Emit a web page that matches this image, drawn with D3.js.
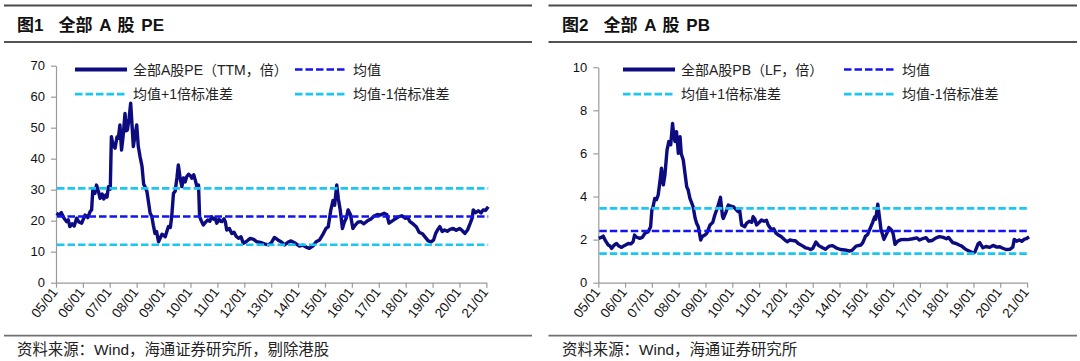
<!DOCTYPE html>
<html>
<head>
<meta charset="utf-8">
<script src="https://d3js.org/d3.v7.min.js"></script>
<style>
  body { margin: 0; background: #fff; }
  svg { display: block; font-family: "Liberation Sans", Arial, "Noto Sans CJK SC", sans-serif; }
</style>
</head>
<body>
<div id="chart"></div>
<script>
// ===========Data
var peDates = ["2005-01-07","2005-02-14","2005-03-14","2005-04-20","2005-05-26","2005-06-17","2005-07-08","2005-08-08","2005-09-05","2005-10-08","2005-11-06","2005-12-16",
  "2006-01-30","2006-03-08","2006-04-09","2006-04-30","2006-05-15","2006-06-13","2006-07-05","2006-07-31","2006-08-22","2006-09-20","2006-10-12","2006-11-07","2006-11-25","2006-12-13",
  "2007-01-08","2007-01-23","2007-02-14","2007-03-14","2007-04-09","2007-04-27","2007-05-19","2007-06-10","2007-07-02","2007-07-27","2007-08-14","2007-08-29","2007-09-20","2007-10-12","2007-10-30","2007-11-17","2007-12-09",
  "2008-01-02","2008-01-23","2008-02-17","2008-03-14","2008-04-05","2008-04-23","2008-05-19","2008-06-10","2008-07-02","2008-07-24","2008-08-15","2008-09-06","2008-09-28","2008-10-24","2008-11-18","2008-12-10","2008-12-28",
  "2009-01-23","2009-02-14","2009-03-08","2009-04-02","2009-04-20","2009-05-15","2009-06-07","2009-07-02","2009-07-20","2009-08-15","2009-09-06","2009-09-28","2009-10-20","2009-11-11","2009-12-06",
  "2010-01-01","2010-01-19","2010-02-14","2010-03-08","2010-03-29","2010-04-20","2010-05-05","2010-05-27","2010-06-25","2010-07-24","2010-08-22","2010-09-20","2010-10-15","2010-11-10","2010-12-02","2010-12-24",
  "2011-01-23","2011-02-14","2011-03-04","2011-04-02","2011-04-20","2011-05-08","2011-06-13","2011-07-16","2011-08-14","2011-09-13","2011-10-15","2011-11-18","2011-12-20",
  "2012-01-30","2012-03-22","2012-05-08","2012-06-21","2012-08-08","2012-10-01","2012-11-25",
  "2013-01-04","2013-02-14","2013-04-02","2013-05-15","2013-07-02","2013-08-15","2013-09-28","2013-11-18",
  "2014-01-19","2014-03-08","2014-04-20","2014-06-03","2014-07-20","2014-09-03","2014-10-20","2014-12-02",
  "2015-01-15","2015-02-14","2015-03-22","2015-04-20","2015-05-12","2015-06-10","2015-07-02","2015-07-27","2015-08-26","2015-09-20","2015-10-20","2015-11-11","2015-12-13",
  "2016-01-15","2016-02-14","2016-03-22","2016-05-01","2016-06-13","2016-08-01","2016-09-13","2016-10-30","2016-12-13",
  "2017-01-19","2017-03-14","2017-04-20","2017-05-19","2017-06-24","2017-08-08","2017-09-20","2017-11-07","2017-12-24",
  "2018-01-30","2018-02-24","2018-04-20","2018-05-27","2018-07-02","2018-08-15","2018-09-20","2018-11-03","2018-12-13",
  "2019-01-15","2019-02-14","2019-03-14","2019-04-09","2019-05-12","2019-06-13","2019-07-20","2019-08-26","2019-10-08","2019-11-18",
  "2020-01-03","2020-01-30","2020-03-14","2020-04-20","2020-05-27","2020-06-24","2020-07-06","2020-08-08","2020-09-13","2020-10-20","2020-11-18","2020-12-20",
  "2021-01-26"];
var peValues = [22.4,21.8,22.6,20.8,19.7,20.3,18.1,19.0,18.3,20.8,19.6,19.2,
  21.8,21.0,22.9,23.5,29.9,28.8,31.5,29.5,27.2,28.6,27.0,28.3,27.6,31.0,
  30.2,47.1,44.5,43.4,47.0,46.6,50.9,42.8,47.5,54.6,49.0,49.3,53.0,57.9,51.0,43.9,47.5,
  50.9,44.0,40.6,37.5,31.8,31.0,29.5,26.0,22.4,21.5,18.5,15.9,16.5,13.2,14.5,15.6,15.4,
  14.8,16.5,18.1,17.8,21.0,28.8,29.5,34.0,38.0,33.5,31.0,33.8,32.5,34.2,35.0,
  34.5,33.7,34.8,33.0,31.0,31.5,21.3,20.0,18.6,19.5,20.2,19.8,21.3,20.5,20.8,19.2,
  20.5,19.8,19.7,20.6,19.6,17.0,17.5,15.9,16.3,15.0,14.3,14.8,12.7,
  13.3,14.3,14.0,13.2,13.0,12.5,12.2,
  12.9,14.6,13.8,13.2,12.2,13.0,13.5,12.8,
  11.8,12.1,11.5,11.1,11.8,13.2,13.8,15.5,
  17.5,18.0,23.5,26.5,25.0,31.5,27.0,23.5,17.5,19.5,21.0,23.5,22.0,
  17.5,18.5,19.5,19.7,19.0,20.0,20.5,21.5,22.0,
  21.8,22.4,22.0,19.2,19.8,20.5,21.2,21.6,20.8,
  21.0,19.8,18.8,18.0,16.3,15.8,14.8,13.5,13.2,
  13.8,16.0,17.2,18.1,16.5,17.0,16.6,17.2,17.5,16.9,
  17.5,17.0,15.9,17.0,19.2,21.0,23.5,22.6,23.2,22.5,23.5,23.3,
  24.5];
var peMean = 21.35;
var peStd = 9.1;

var pbDates = ["2005-01-07","2005-02-10","2005-03-10","2005-04-08","2005-05-16","2005-06-10","2005-07-01","2005-07-29","2005-09-06","2005-10-08","2005-11-14","2005-12-20",
  "2006-02-14","2006-03-20","2006-04-20","2006-05-10","2006-06-01","2006-07-20","2006-08-24","2006-09-28","2006-11-14","2006-12-15",
  "2007-01-01","2007-01-15","2007-02-10","2007-03-05","2007-03-28","2007-04-25","2007-05-12","2007-06-06","2007-06-28","2007-07-27","2007-08-20","2007-09-15","2007-10-10","2007-10-25","2007-11-12","2007-12-03","2007-12-28",
  "2008-01-20","2008-02-05","2008-03-04","2008-04-20","2008-05-10","2008-06-03","2008-07-16","2008-08-12","2008-09-03","2008-09-25","2008-10-27","2008-11-20","2008-12-25",
  "2009-01-20","2009-03-04","2009-04-10","2009-05-08","2009-06-15","2009-07-24","2009-08-20","2009-08-31","2009-10-10","2009-11-08","2009-12-10",
  "2010-01-15","2010-02-20","2010-03-20","2010-04-12","2010-05-08","2010-06-20","2010-07-14","2010-08-20","2010-09-24","2010-10-12","2010-11-05","2010-11-28",
  "2011-01-05","2011-02-03","2011-03-10","2011-04-12","2011-05-05","2011-06-21","2011-07-20","2011-08-20","2011-09-20","2011-10-25","2011-12-20",
  "2012-01-20","2012-02-24","2012-04-10","2012-05-10","2012-06-18","2012-08-10","2012-09-25","2012-11-02","2012-12-05",
  "2013-01-04","2013-02-14","2013-03-25","2013-05-15","2013-06-25","2013-08-15","2013-09-28","2013-11-15",
  "2014-01-15","2014-03-15","2014-05-15","2014-06-20","2014-08-15","2014-10-20","2014-11-15","2014-12-20",
  "2015-01-20","2015-03-28","2015-04-25","2015-05-10","2015-06-07","2015-07-05","2015-07-20","2015-08-30","2015-10-10","2015-11-05","2015-12-10",
  "2016-01-01","2016-01-28","2016-03-05","2016-04-20","2016-06-02","2016-07-20","2016-09-24","2016-11-20","2016-12-28",
  "2017-02-10","2017-03-25","2017-05-02","2017-06-15","2017-08-10","2017-09-25","2017-11-15","2017-12-28",
  "2018-01-25","2018-03-24","2018-05-10","2018-06-20","2018-07-25","2018-09-20","2018-11-10","2018-12-28",
  "2019-01-20","2019-03-05","2019-03-27","2019-05-10","2019-06-20","2019-08-10","2019-09-25","2019-11-15","2019-12-25",
  "2020-02-05","2020-03-20","2020-05-10","2020-06-20","2020-07-10","2020-08-10","2020-09-15","2020-10-20","2020-11-25","2020-12-25",
  "2021-01-28"];
var pbValues = [2.06,2.10,2.16,1.95,1.75,1.70,1.59,1.72,1.82,1.70,1.64,1.72,
  1.82,1.80,1.90,2.21,2.12,2.06,2.10,2.29,2.37,2.60,
  3.37,3.50,3.91,3.85,4.07,4.80,5.31,4.54,5.00,6.16,6.55,6.40,7.39,6.90,6.55,7.01,6.00,
  6.78,6.00,5.69,4.45,4.30,3.91,3.53,3.00,2.75,2.60,1.98,2.15,2.21,
  2.30,2.68,2.80,3.14,3.50,3.96,3.10,2.98,3.30,3.60,3.55,
  3.53,3.40,3.30,3.35,2.68,2.60,2.75,2.85,2.80,3.06,2.95,2.68,
  2.80,2.91,2.85,2.90,2.68,2.45,2.50,2.30,2.21,2.15,1.98,
  1.90,1.98,1.95,1.95,1.82,1.72,1.62,1.59,1.54,
  1.60,1.89,1.72,1.62,1.55,1.70,1.72,1.62,
  1.54,1.52,1.47,1.50,1.70,1.75,1.86,2.15,
  2.24,2.79,3.05,2.95,3.64,2.90,2.48,2.01,2.30,2.56,2.45,
  2.30,1.78,1.93,2.00,2.01,2.00,2.04,2.08,1.98,
  2.05,2.09,1.93,1.96,2.08,2.14,2.10,2.04,
  2.10,1.86,1.82,1.75,1.70,1.54,1.46,1.38,
  1.42,1.80,1.86,1.62,1.68,1.64,1.73,1.65,1.67,
  1.60,1.54,1.55,1.65,2.01,1.92,1.98,1.92,2.02,2.05,
  2.13];
var pbMean = 2.40;
var pbStd = 1.05;

var yearTicks = ["2005","2006","2007","2008","2009","2010","2011","2012","2013","2014","2015","2016","2017","2018","2019","2020","2021"];
var peYTicks = [0, 10, 20, 30, 40, 50, 60, 70];
var pbYTicks = [0, 2, 4, 6, 8, 10];

var peLegend = ["全部A股PE（TTM，倍）", "均值", "均值+1倍标准差", "均值-1倍标准差"];
var pbLegend = ["全部A股PB（LF，倍）", "均值", "均值+1倍标准差", "均值-1倍标准差"];

// ===========Colours
var navy = "#0c0c80";
var blue = "#1414f0";
var cyan = "#1cc6f2";

var parseDate = d3.timeParse("%Y-%m-%d");
var parseYear = d3.timeParse("%Y");

var svg = d3.select("#chart").append("svg")
    .attr("width", 1080)
    .attr("height", 361);

drawPanel({
    dates: peDates, values: peValues, mean: peMean, std: peStd,
    yTicks: peYTicks, yMax: 70, legend: peLegend,
    figNo: "图1", title: "全部 A 股 PE", source: "资料来源：Wind，海通证券研究所，剔除港股",
    frameLeft: 4, frameRight: 532, titleX: 17, titleX2: 58.5,
    plotLeft: 56, plotRight: 486.4, plotTop: 65.7,
    legX: [75, 295]
});

drawPanel({
    dates: pbDates, values: pbValues, mean: pbMean, std: pbStd,
    yTicks: pbYTicks, yMax: 10, legend: pbLegend,
    figNo: "图2", title: "全部 A 股 PB", source: "资料来源：Wind，海通证券研究所",
    frameLeft: 548.5, frameRight: 1077, titleX: 562, titleX2: 603.5,
    plotLeft: 598.3, plotRight: 1027.1, plotTop: 67.2,
    legX: [623, 844]
});

function drawPanel(p) {
    var plotBottom = 282.7;
    var g = svg.append("g");

    // ===========Frame rules, title and source
    g.append("line").attr("x1", p.frameLeft).attr("x2", p.frameRight)
        .attr("y1", 5.5).attr("y2", 5.5).attr("stroke", "#4a4a4a").attr("stroke-width", 1.8);
    g.append("line").attr("x1", p.frameLeft).attr("x2", p.frameRight)
        .attr("y1", 42).attr("y2", 42).attr("stroke", "#1a1a1a").attr("stroke-width", 1.6);
    g.append("line").attr("x1", p.frameLeft).attr("x2", p.frameRight)
        .attr("y1", 335.7).attr("y2", 335.7).attr("stroke", "#707070").attr("stroke-width", 1.8);

    g.append("text").attr("x", p.titleX).attr("y", 31)
        .attr("font-size", "17px").attr("font-weight", "bold").attr("fill", "#111")
        .text(p.figNo);
    g.append("text").attr("x", p.titleX2).attr("y", 31)
        .attr("font-size", "17px").attr("font-weight", "bold").attr("fill", "#111")
        .attr("word-spacing", "2px")
        .text(p.title);

    g.append("text").attr("x", p.titleX).attr("y", 355)
        .attr("font-size", "15.4px").attr("fill", "#222")
        .text(p.source);

    // ===========Scales
    var x = d3.scaleTime()
        .domain([parseYear("2005"), parseYear("2021")])
        .range([p.plotLeft, p.plotRight]);
    var y = d3.scaleLinear()
        .domain([0, p.yMax])
        .range([plotBottom, p.plotTop]);

    // ===========Axes
    var leftAxis = d3.axisLeft(y).tickValues(p.yTicks).tickSize(5).tickSizeOuter(0).tickPadding(6);
    var yAxis = g.append("g")
        .attr("transform", `translate(${p.plotLeft}, 0)`)
        .call(leftAxis);
    yAxis.select(".domain").attr("stroke", "#9a9a9a").attr("stroke-width", 1.2);
    yAxis.selectAll(".tick line").attr("stroke", "#9a9a9a").attr("stroke-width", 1.2);
    yAxis.selectAll("text").attr("font-size", "13px").attr("fill", "#111")
        .attr("font-family", "Liberation Sans, Arial, sans-serif");

    var bottomAxis = d3.axisBottom(x)
        .tickValues(yearTicks.map(parseYear))
        .tickFormat(d3.timeFormat("%y/%m"))
        .tickSize(5).tickSizeOuter(0);
    var xAxis = g.append("g")
        .attr("transform", `translate(0, ${plotBottom})`)
        .call(bottomAxis);
    xAxis.select(".domain").attr("stroke", "#9a9a9a").attr("stroke-width", 1.2);
    xAxis.selectAll(".tick line").attr("stroke", "#9a9a9a").attr("stroke-width", 1.2);
    xAxis.selectAll("text")
        .attr("x", 0).attr("y", 0).attr("dy", 0)
        .attr("transform", "translate(2, 9.5) rotate(-52)")
        .style("text-anchor", "end")
        .attr("font-size", "13.5px").attr("fill", "#111")
        .attr("font-family", "Liberation Sans, Arial, sans-serif");

    // ===========Main line
    var series = p.dates.map(function(d, i) { return { date: parseDate(d), value: p.values[i] }; });
    var line = d3.line()
        .x(d => x(d.date))
        .y(d => y(d.value));

    g.append("path")
        .datum(series)
        .attr("fill", "none")
        .attr("stroke", navy)
        .attr("stroke-width", 3.4)
        .attr("stroke-linejoin", "round")
        .attr("d", line);

    // ===========Mean and +/- 1 std lines
    var xEnd = x(series[series.length - 1].date);
    var levels = [
        { v: p.mean + p.std, c: cyan },
        { v: p.mean, c: blue },
        { v: p.mean - p.std, c: cyan }
    ];
    g.selectAll(".level")
        .data(levels)
        .enter()
        .append("line")
        .attr("class", "level")
        .attr("x1", p.plotLeft + 1)
        .attr("x2", xEnd)
        .attr("y1", d => y(d.v))
        .attr("y2", d => y(d.v))
        .attr("stroke", d => d.c)
        .attr("stroke-width", 2.7)
        .attr("stroke-dasharray", "7.5,3");

    // ===========Legend
    var legendItems = [
        { label: p.legend[0], col: 0, row: 0, c: navy, w: 4, dash: null },
        { label: p.legend[1], col: 1, row: 0, c: blue, w: 2.7, dash: "7.5,3" },
        { label: p.legend[2], col: 0, row: 1, c: cyan, w: 2.7, dash: "7.5,3" },
        { label: p.legend[3], col: 1, row: 1, c: cyan, w: 2.7, dash: "7.5,3" }
    ];
    var rowY = [69.5, 94.2];
    var legend = g.selectAll(".legend")
        .data(legendItems)
        .enter()
        .append("g")
        .attr("class", "legend")
        .attr("transform", d => `translate(${p.legX[d.col]}, ${rowY[d.row]})`);

    legend.append("line")
        .attr("x1", 0).attr("x2", 52)
        .attr("y1", 0).attr("y2", 0)
        .attr("stroke", d => d.c)
        .attr("stroke-width", d => d.w)
        .attr("stroke-dasharray", d => d.dash);

    legend.append("text")
        .attr("x", 58)
        .attr("y", 0)
        .attr("dy", "0.36em")
        .attr("font-size", "14px")
        .attr("fill", "#222")
        .text(d => d.label);
}
</script>
</body>
</html>
